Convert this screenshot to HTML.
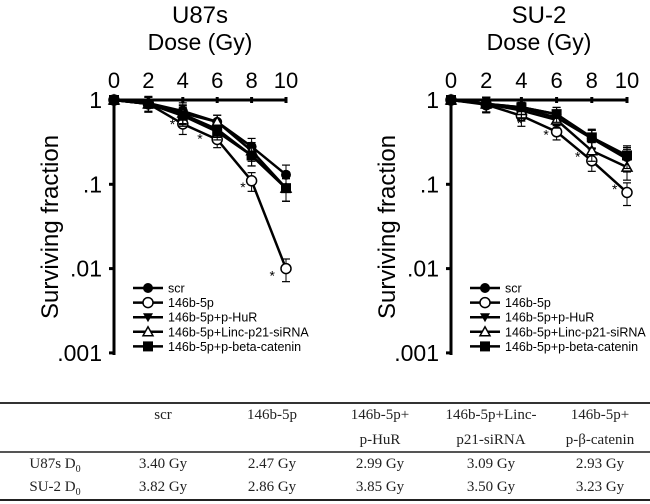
<!DOCTYPE html>
<html><head><meta charset="utf-8"><style>
body{margin:0;background:#fff;width:650px;height:504px;overflow:hidden;font-family:"Liberation Sans",Arial,sans-serif}
svg{position:absolute;left:0;top:0}
.tbl{position:absolute;font-family:"Liberation Serif",serif;font-size:15px;color:#222}
</style></head><body>
<svg id="chart" width="650" height="504"></svg>
<script>
const doses=[0,2,4,6,8,10];
const seriesNames=["scr","146b-5p","146b-5p+p-HuR","146b-5p+Linc-p21-siRNA","146b-5p+p-beta-catenin"];
const u87Scr=[1,0.92,0.74,0.55,0.28,0.13];
const u87Mir=[1,0.9,0.52,0.34,0.11,0.01];
const u87HuR=[1,0.9,0.68,0.45,0.22,0.09];
const u87Linc=[1,0.9,0.7,0.55,0.25,0.09];
const u87Beta=[1,0.9,0.65,0.42,0.22,0.09];
const su2Scr=[1,0.9,0.82,0.68,0.35,0.21];
const su2Mir=[1,0.88,0.65,0.42,0.19,0.08];
const su2HuR=[1,0.9,0.8,0.62,0.35,0.2];
const su2Linc=[1,0.9,0.75,0.58,0.25,0.16];
const su2Beta=[1,0.9,0.82,0.68,0.36,0.22];
const errFrac=[0,0.2,0.25,0.2,0.25,0.3];
const xTicks=[0,2,4,6,8,10];
const yTicks=[1,0.1,0.01,0.001];
const yTickLabels=["1",".1",".01",".001"];
const u87Stars=[[3.4,0.53],[5.0,0.36],[7.5,0.095],[9.2,0.0085]];
const su2Stars=[[3.9,0.55],[5.4,0.4],[7.2,0.22],[9.3,0.09]];

const svg=document.getElementById('chart');
const NS='http://www.w3.org/2000/svg';
function mk(tag,attrs,parent){const e=document.createElementNS(NS,tag);for(const k in attrs)e.setAttribute(k,attrs[k]);(parent||svg).appendChild(e);return e;}

function drawChart(ox,x10,title,data,stars,prefix){
  const g=mk('g',{});
  
  
  const xs=v=>ox+(x10-ox)*v/10;
  const ys=v=>100+(-Math.log10(v))*84.3;
  const cx=(ox+x10)/2;
  let t=mk('text',{x:cx,y:23,'font-size':24,'text-anchor':'middle'},g);t.textContent=title;
  
  t=mk('text',{x:cx,y:50,'font-size':23,'text-anchor':'middle'},g);t.textContent='Dose (Gy)';
  
  t=mk('text',{x:0,y:0,'font-size':24,'text-anchor':'middle',transform:`translate(${ox-56},227) rotate(-90)`},g);t.textContent='Surviving fraction';
  
  mk('line',{x1:ox,y1:100,x2:x10+1,y2:100,stroke:'#000','stroke-width':3},g);
  mk('line',{x1:ox,y1:100,x2:ox,y2:355,stroke:'#000','stroke-width':3},g);
  xTicks.forEach(v=>{
    mk('line',{x1:xs(v),y1:97,x2:xs(v),y2:103,stroke:'#000','stroke-width':3},g);
    const l=mk('text',{x:xs(v),y:88,'font-size':22,'text-anchor':'middle'},g);l.textContent=v;
    
  });
  yTicks.forEach((v,i)=>{
    mk('line',{x1:ox-5,y1:ys(v),x2:ox,y2:ys(v),stroke:'#000','stroke-width':3},g);
    const l=mk('text',{x:ox-12,y:ys(v)+8,'font-size':23,'text-anchor':'end'},g);l.textContent=yTickLabels[i];
    
  });
  const markers=['circle-f','circle-o','tri-down','tri-up-o','square'];
  function marker(kind,x,y,p){
    if(kind==='circle-f')return mk('circle',{cx:x,cy:y,r:5,fill:'#000'},p);
    if(kind==='circle-o')return mk('circle',{cx:x,cy:y,r:5,fill:'#fff',stroke:'#000','stroke-width':1.5},p);
    if(kind==='tri-down')return mk('polygon',{points:`${x-5},${y-4} ${x+5},${y-4} ${x},${y+5}`,fill:'#000'},p);
    if(kind==='tri-up-o')return mk('polygon',{points:`${x-5},${y+4} ${x+5},${y+4} ${x},${y-5}`,fill:'#fff',stroke:'#000','stroke-width':1.5},p);
    return mk('rect',{x:x-5,y:y-5,width:10,height:10,fill:'#000'},p);
  }
  data.forEach((vals,si)=>{
    const sg=mk('g',{},g);
    
    
    const pts=vals.map((v,i)=>xs(doses[i])+','+ys(v)).join(' ');
    mk('polyline',{points:pts,fill:'none',stroke:'#000','stroke-width':2.5},sg);
    vals.forEach((v,i)=>{
      if(errFrac[i]>0){
        const lo=ys(v*(1-errFrac[i])),hi=ys(v*(1+errFrac[i]));
        const x=xs(doses[i]);
        mk('line',{x1:x,y1:hi,x2:x,y2:lo,stroke:'#000','stroke-width':1},sg);
        mk('line',{x1:x-4,y1:hi,x2:x+4,y2:hi,stroke:'#000','stroke-width':1.2},sg);
        mk('line',{x1:x-4,y1:lo,x2:x+4,y2:lo,stroke:'#000','stroke-width':1.2},sg);
      }
    });
    vals.forEach((v,i)=>{const m=marker(markers[si],xs(doses[i]),ys(v),sg);});
  });
  stars.forEach(s=>{const st=mk('text',{x:xs(s[0]),y:ys(s[1])+6,'font-size':14,'text-anchor':'middle'},g);st.textContent='*';
    });
  const lg=mk('g',{},g);
  
  
  seriesNames.forEach((n,i)=>{
    const y=288+i*14.6;const lx=ox+19;
    const e=mk('g',{},lg);
    
    
    mk('line',{x1:lx,y1:y,x2:lx+30,y2:y,stroke:'#000','stroke-width':2.5},e);
    marker(markers[i],lx+15,y,e);
    const tx=mk('text',{x:lx+35,y:y+4.5,'font-size':12.5},e);tx.textContent=n;
  });
}
drawChart(114,286,'U87s',[u87Scr,u87Mir,u87HuR,u87Linc,u87Beta],u87Stars,'u87s');
drawChart(451,627,'SU-2',[su2Scr,su2Mir,su2HuR,su2Linc,su2Beta],su2Stars,'su2');
</script>
<div>
<div style="position:absolute;left:0;top:402px;width:650px;height:2px;background:#333"></div>
<div style="position:absolute;left:0;top:451px;width:650px;height:2px;background:#555"></div>
<div style="position:absolute;left:0;top:499px;width:650px;height:2px;background:#222"></div>
</div>
<div id="cells"></div>
<script>
const colX=[55,163,272,380,491,600];
const headerTop=["","scr","146b-5p","146b-5p+","146b-5p+Linc-","146b-5p+"];
const headerBot=["","","","p-HuR","p21-siRNA","p-β-catenin"];
const rowU87=["U87s D<sub style='font-size:10px'>0</sub>","3.40 Gy","2.47 Gy","2.99 Gy","3.09 Gy","2.93 Gy"];
const rowSU2=["SU-2 D<sub style='font-size:10px'>0</sub>","3.82 Gy","2.86 Gy","3.85 Gy","3.50 Gy","3.23 Gy"];
const cells=document.getElementById('cells');
[[headerTop,407],[headerBot,432],[rowU87,456],[rowSU2,479]].forEach(([row,y])=>{
  row.forEach((txt,i)=>{
    const d=document.createElement('div');
    d.className='tbl';
    d.style.left=(colX[i]-60)+'px';d.style.width='120px';d.style.textAlign='center';d.style.top=y+'px';
    d.innerHTML=txt;
    
    
    cells.appendChild(d);
  });
});
</script>
</body></html>
